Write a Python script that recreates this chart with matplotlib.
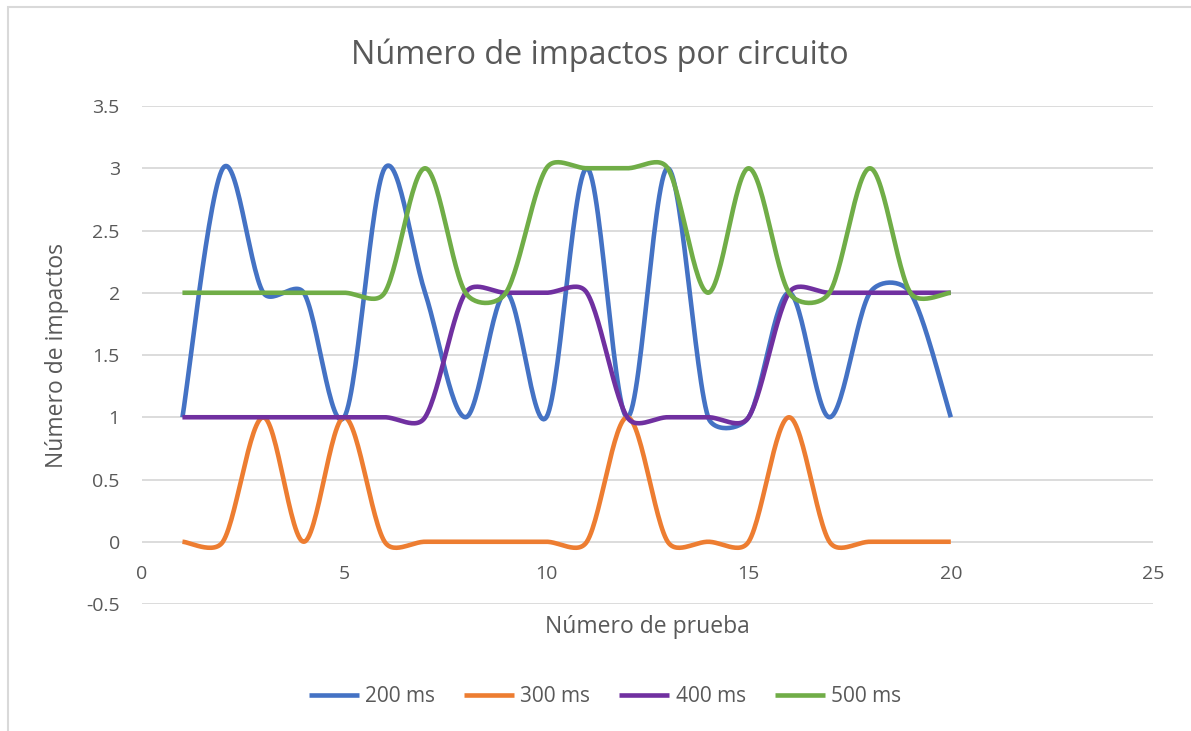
import numpy as np
import matplotlib
matplotlib.use("Agg")
import matplotlib.pyplot as plt
from matplotlib.patches import Rectangle

plt.rcParams['font.family'] = ['Open Sans', 'DejaVu Sans']

prueba = list(range(1, 21))
ms200 = [1, 3, 2, 2, 1, 3, 2, 1, 2, 1, 3, 1, 3, 1, 1, 2, 1, 2, 2, 1]
ms300 = [0, 0, 1, 0, 1, 0, 0, 0, 0, 0, 0, 1, 0, 0, 0, 1, 0, 0, 0, 0]
ms400 = [1, 1, 1, 1, 1, 1, 1, 2, 2, 2, 2, 1, 1, 1, 1, 2, 2, 2, 2, 2]
ms500 = [2, 2, 2, 2, 2, 2, 3, 2, 2, 3, 3, 3, 3, 2, 3, 2, 2, 3, 2, 2]

series = [("200 ms", ms200, "#4472C4"), ("300 ms", ms300, "#ED7D31"),
          ("400 ms", ms400, "#7030A0"), ("500 ms", ms500, "#70AD47")]
gris = "#595959"

# escala en pixeles (excel suaviza en espacio de pantalla)
SX = 1011 / 25
SY = 498 / 4


def suavizar(x, y, n=30, a=0.4):
    # bezier tipo excel: tangente catmull-rom limitada por el largo del tramo
    x = np.asarray(x, float) * SX
    y = np.asarray(y, float) * SY
    P = np.column_stack([np.concatenate([[x[0]], x, [x[-1]]]),
                         np.concatenate([[y[0]], y, [y[-1]]])])
    t = np.linspace(0, 1, n)[:, None]
    out = []
    for i in range(1, len(P) - 2):
        p0, p3 = P[i], P[i + 1]
        d = np.hypot(*(p3 - p0))
        tg1 = P[i + 1] - P[i - 1]
        tg2 = P[i + 2] - P[i]
        f1 = min(1 / 6, a * d / max(np.hypot(*tg1), 1e-9))
        f2 = min(1 / 6, a * d / max(np.hypot(*tg2), 1e-9))
        c1 = p0 + f1 * tg1
        c2 = p3 - f2 * tg2
        b = (1 - t) ** 3 * p0 + 3 * (1 - t) ** 2 * t * c1 + 3 * (1 - t) * t ** 2 * c2 + t ** 3 * p3
        out.append(b)
    b = np.vstack(out)
    return b[:, 0] / SX, b[:, 1] / SY


fig = plt.figure(figsize=(11.91, 7.31), dpi=100)
fig.patches.append(Rectangle((8 / 1191, -0.1), 1.2, 1.1 - 7 / 731, transform=fig.transFigure,
                             fill=False, edgecolor="#d9d9d9", lw=1.5))
ax = fig.add_axes([142 / 1191, 1 - 604 / 731, (1153 - 142) / 1191, (604 - 106) / 731])

for nombre, vals, col in series:
    sx, sy = suavizar(prueba, vals)
    ax.plot(sx, sy, color=col, lw=3.3, label=nombre, solid_capstyle="butt")

ax.set_xlim(0, 25)
ax.set_ylim(-0.5, 3.5)
ax.set_xticks([0, 5, 10, 15, 20, 25])
ax.set_yticks(np.arange(-0.5, 3.51, 0.5))
ax.set_yticklabels(["-0.5", "0", "0.5", "1", "1.5", "2", "2.5", "3", "3.5"])
ax.yaxis.grid(True, color="#d9d9d9", lw=1.3)
ax.set_axisbelow(True)
for s in ["top", "right", "left"]:
    ax.spines[s].set_visible(False)
ax.spines["bottom"].set_position(("data", 0))
ax.spines["bottom"].set_visible(False)
ax.tick_params(length=0, labelsize=14, colors=gris)
ax.tick_params(axis="x", pad=17)
ax.tick_params(axis="y", pad=16)

fig.text(600 / 1191, 1 - 55 / 731, "Número de impactos por circuito", fontsize=23.3,
         color=gris, ha="center", va="center")
ax.set_xlabel("Número de prueba", fontsize=16.5, color=gris)
ax.xaxis.set_label_coords(0.5, -0.022)
ax.set_ylabel("Número de impactos", fontsize=16.5, color=gris, labelpad=12)

leg = fig.legend(loc="center", bbox_to_anchor=(605 / 1191, 1 - 697 / 731), ncol=4, frameon=False,
                 fontsize=15, handlelength=2.4, columnspacing=1.4, handletextpad=0.3)
for t in leg.get_texts():
    t.set_color(gris)

fig.savefig("out.png", dpi=100)
